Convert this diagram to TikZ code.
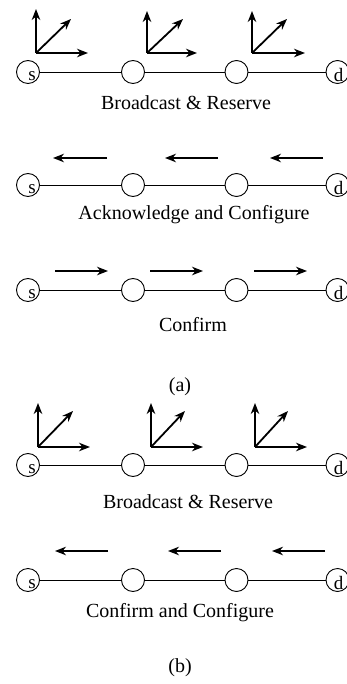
\documentclass[tikz,border=0pt]{standalone}
\usepackage{fontspec}
\setmainfont{Liberation Serif}
\usetikzlibrary{arrows.meta}
\tikzset{
  x=1pt, y=-1pt,
  hop/.style={circle, draw, line width=0.9pt, minimum size=23pt, inner sep=0pt},
  link/.style={line width=0.8pt},
  msg/.style={line width=1.8pt, -{Stealth[length=11pt,width=8.5pt,inset=3.5pt]}},
  caption/.style={font=\fontsize{20}{24}\selectfont},
  endlabel/.style={font=\fontsize{19}{21}\selectfont, inner sep=0pt}
}
% one chain s -- o -- o -- d at height #1, row name #2
\newcommand{\hopchain}[2]{%
  \node[hop] (#2s) at (28,#1) {};
  \node[hop] (#2m) at (133,#1) {};
  \node[hop] (#2n) at (236.5,#1) {};
  \node[hop] (#2d) at (337.5,#1) {};
  \node[endlabel] at ([xshift=4pt,yshift=-4pt]#2s.center) {s};
  \node[endlabel] at ([xshift=1pt,yshift=-3pt]#2d.center) {d};
  \draw[link] (#2s) -- (#2m) -- (#2n) -- (#2d);
}
% broadcast fan: origin #1,#2 ; up tip y #3 ; right tip x #4 ; diagonal tip #5,#6
\newcommand{\fanout}[7]{%
  \coordinate (#7o) at (#1,#2);
  \coordinate (#7u) at (#1,#3);
  \coordinate (#7r) at (#4,#2);
  \coordinate (#7g) at (#5,#6);
  \draw[msg] (#7o) -- (#7u);
  \draw[msg] (#7o) -- (#7r);
  \draw[msg] (#7o) -- (#7g);
}
\begin{document}
\begin{tikzpicture}
\useasboundingbox (0,0) rectangle (347,684);

% (a)
\hopchain{72}{A}
\fanout{36}{53}{9}{88}{71}{19}{fa}
\fanout{147}{53}{11}{197}{183}{19}{fb}
\fanout{252}{53}{11}{305}{287}{19}{fc}
\node[caption] (capA1) at (186,103) {Broadcast \& Reserve};

\hopchain{185}{B}
\coordinate (b1t) at (107,158); \coordinate (b1h) at (53,158);
\coordinate (b2t) at (218,158); \coordinate (b2h) at (165,158);
\coordinate (b3t) at (323,158); \coordinate (b3h) at (270,158);
\draw[msg] (b1t) -- (b1h);
\draw[msg] (b2t) -- (b2h);
\draw[msg] (b3t) -- (b3h);
\node[caption] (capA2) at (194,215) {Acknowledge and Configure};

\hopchain{290}{C}
\coordinate (c1t) at (55,271); \coordinate (c1h) at (108,271);
\coordinate (c2t) at (150,271); \coordinate (c2h) at (203,271);
\coordinate (c3t) at (254,271); \coordinate (c3h) at (307,271);
\draw[msg] (c1t) -- (c1h);
\draw[msg] (c2t) -- (c2h);
\draw[msg] (c3t) -- (c3h);
\node[caption] (capA3) at (193,325) {Confirm};

\node[caption] (tagA) at (180,387) {(a)};

% (b)
\hopchain{465}{D}
\fanout{38}{447}{403}{90}{73}{411}{fd}
\fanout{151}{447}{403}{203}{185}{411}{fe}
\fanout{255}{447}{403}{307}{288}{411}{ff}
\node[caption] (capB1) at (188,502) {Broadcast \& Reserve};

\hopchain{580}{E}
\coordinate (e1t) at (108,551); \coordinate (e1h) at (55,551);
\coordinate (e2t) at (221,551); \coordinate (e2h) at (168,551);
\coordinate (e3t) at (325,551); \coordinate (e3h) at (272,551);
\draw[msg] (e1t) -- (e1h);
\draw[msg] (e2t) -- (e2h);
\draw[msg] (e3t) -- (e3h);
\node[caption] (capB2) at (180,613) {Confirm and Configure};

\node[caption] (tagB) at (180,668) {(b)};
\end{tikzpicture}
\end{document}
